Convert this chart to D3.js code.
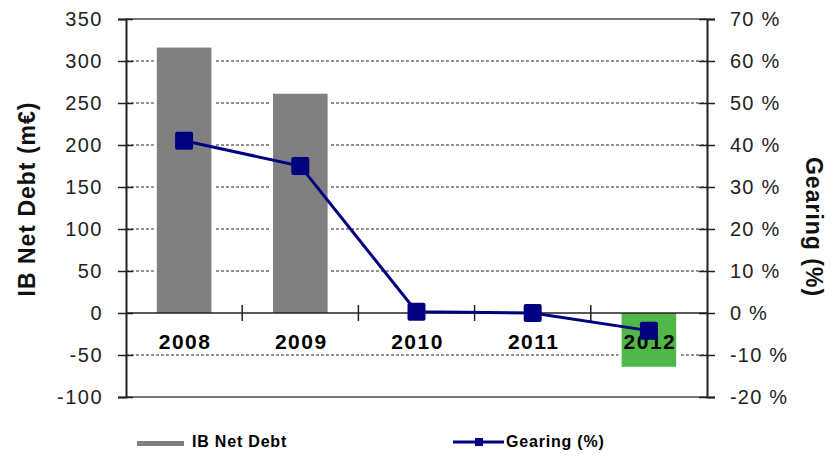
<!DOCTYPE html>
<meta charset="utf-8">
<head>
    <title>IB Net Debt and Gearing</title>
    <style>
        body { margin: 0; background: #fff; }
        text { font-family: "Liberation Sans", Arial, sans-serif; }
    </style>
</head>
<body>

<script src="https://d3js.org/d3.v7.min.js"></script>

<div id="my_dataviz"></div>

<script>

    // data
    var years = ["2008", "2009", "2010", "2011", "2012"];
    var netDebt = [316, 261, 0, 0, -64];          // m€
    var gearing = [41, 35, 0.3, 0, -4.2];         // %
    var leftTicks = [350, 300, 250, 200, 150, 100, 50, 0, -50, -100];
    var gridTicks = [300, 250, 200, 150, 100, 50, -50];
    var rightTicks = [70, 60, 50, 40, 30, 20, 10, 0, -10, -20];

    // plot area (don't call these top/left: window.top is read-only)
    var plotLeft = 126, plotRight = 707, plotTop = 19, plotBottom = 397;

    var svg = d3.select("#my_dataviz")
        .append("svg")
        .attr("width", 836)
        .attr("height", 456);

    var x = d3.scaleBand()
        .domain(years)
        .range([plotLeft, plotRight])
        .paddingInner(0.53)
        .paddingOuter(0.265);

    var yL = d3.scaleLinear().domain([-100, 350]).range([plotBottom, plotTop]);
    var yR = d3.scaleLinear().domain([-20, 70]).range([plotBottom, plotTop]);

    // dashed grid
    var grid = svg.append("g").attr("class", "grid");
    gridTicks.forEach(function(d) {
        grid.append("line")
            .attr("x1", plotLeft)
            .attr("x2", plotRight)
            .attr("y1", yL(d))
            .attr("y2", yL(d))
            .attr("stroke", "#6e6e6e")
            .attr("stroke-width", 1.4)
            .attr("stroke-dasharray", "3 2");
    });

    // plot border top / bottom
    svg.append("line")
        .attr("x1", plotLeft).attr("x2", plotRight)
        .attr("y1", yL(350)).attr("y2", yL(350))
        .attr("stroke", "#777").attr("stroke-width", 2);
    svg.append("line")
        .attr("x1", plotLeft).attr("x2", plotRight)
        .attr("y1", yL(-100)).attr("y2", yL(-100))
        .attr("stroke", "#777").attr("stroke-width", 2);

    // bars, with white gap at the sides
    var bars = svg.append("g");
    bars.selectAll(".bg")
        .data(netDebt)
        .enter()
        .append("rect")
        .attr("x", function(d, i) { return x(years[i]) - 3; })
        .attr("y", function(d) { return yL(Math.max(d, 0)); })
        .attr("width", x.bandwidth() + 6)
        .attr("height", function(d) { return Math.abs(yL(d) - yL(0)); })
        .style("fill", "white");
    bars.selectAll(".bar")
        .data(netDebt)
        .enter()
        .append("rect")
        .attr("x", function(d, i) { return x(years[i]); })
        .attr("y", function(d) { return yL(Math.max(d, 0)); })
        .attr("width", x.bandwidth())
        .attr("height", function(d) { return Math.abs(yL(d) - yL(0)); })
        .style("fill", function(d) { return d < 0 ? "#50b848" : "#808080"; });

    // left axis
    var gL = svg.append("g")
        .attr("transform", "translate(" + plotLeft + ",0)")
        .call(d3.axisLeft(yL).tickValues(leftTicks).tickSize(8).tickPadding(15)
            .tickFormat(function(d) { return String(d); }));
    gL.select(".domain").style("stroke", "#222").style("stroke-width", 2);
    gL.selectAll(".tick line").attr("x1", 7).style("stroke", "#222").style("stroke-width", 1.5);
    gL.selectAll(".tick text")
        .style("font-family", "Liberation Sans, Arial, sans-serif")
        .style("font-size", "20px")
        .style("letter-spacing", "1.5px")
        .style("fill", "#222");

    // right axis
    var gR = svg.append("g")
        .attr("transform", "translate(" + plotRight + ",0)")
        .call(d3.axisRight(yR).tickValues(rightTicks).tickSize(8).tickPadding(15)
            .tickFormat(function(d) { return d + " %"; }));
    gR.select(".domain").style("stroke", "#222").style("stroke-width", 2);
    gR.selectAll(".tick line").attr("x1", -8).style("stroke", "#222").style("stroke-width", 1.5);
    gR.selectAll(".tick text")
        .style("font-family", "Liberation Sans, Arial, sans-serif")
        .style("font-size", "20px")
        .style("letter-spacing", "1.2px")
        .style("fill", "#222");

    // zero line with category boundary ticks
    svg.append("line")
        .attr("x1", plotLeft).attr("x2", plotRight)
        .attr("y1", yL(0)).attr("y2", yL(0))
        .style("stroke", "#222").style("stroke-width", 1.5);
    svg.append("g")
        .selectAll("line")
        .data(years.slice(1))
        .enter()
        .append("line")
        .attr("x1", function(d) { return x(d) - x.step() * x.paddingInner() / 2; })
        .attr("x2", function(d) { return x(d) - x.step() * x.paddingInner() / 2; })
        .attr("y1", yL(0) - 8)
        .attr("y2", yL(0) + 8)
        .style("stroke", "#222")
        .style("stroke-width", 1.5);

    // category labels
    svg.append("g")
        .selectAll("text")
        .data(years)
        .enter()
        .append("text")
        .attr("x", function(d) { return x(d) + x.bandwidth() / 2 + 1; })
        .attr("y", 349)
        .style("text-anchor", "middle")
        .style("font-weight", "bold")
        .style("font-size", "21px")
        .style("letter-spacing", "1.5px")
        .text(function(d) { return d; });

    // gearing line
    var line = d3.line()
        .x(function(d, i) { return x(years[i]) + x.bandwidth() / 2; })
        .y(function(d) { return yR(d); });
    svg.append("path")
        .datum(gearing)
        .attr("d", line)
        .style("fill", "none")
        .style("stroke", "#000080")
        .style("stroke-width", 3);
    svg.append("g")
        .selectAll("rect")
        .data(gearing)
        .enter()
        .append("rect")
        .attr("x", function(d, i) { return x(years[i]) + x.bandwidth() / 2 - 9; })
        .attr("y", function(d) { return yR(d) - 9; })
        .attr("width", 18)
        .attr("height", 18)
        .attr("rx", 2)
        .style("fill", "#000080");

    // axis titles
    svg.append("text")
        .attr("transform", "translate(35,199) rotate(-90)")
        .style("text-anchor", "middle")
        .style("font-weight", "bold")
        .style("font-size", "23px")
        .style("letter-spacing", "1px")
        .style("fill", "#111")
        .text("IB Net Debt (m€)");
    svg.append("text")
        .attr("transform", "translate(806,227) rotate(90)")
        .style("text-anchor", "middle")
        .style("font-weight", "bold")
        .style("font-size", "23px")
        .style("letter-spacing", "1px")
        .style("fill", "#111")
        .text("Gearing (%)");

    // legend
    svg.append("rect")
        .attr("x", 137).attr("y", 441)
        .attr("width", 47).attr("height", 5)
        .style("fill", "#808080");
    svg.append("text")
        .attr("x", 192).attr("y", 447)
        .style("font-weight", "bold")
        .style("font-size", "16px")
        .style("letter-spacing", "0.8px")
        .text("IB Net Debt");
    svg.append("line")
        .attr("x1", 453).attr("x2", 504)
        .attr("y1", 442).attr("y2", 442)
        .style("stroke", "#000080")
        .style("stroke-width", 3);
    svg.append("rect")
        .attr("x", 475).attr("y", 438)
        .attr("width", 8).attr("height", 8)
        .style("fill", "#000080");
    svg.append("text")
        .attr("x", 506).attr("y", 447)
        .style("font-weight", "bold")
        .style("font-size", "16px")
        .style("letter-spacing", "0.8px")
        .text("Gearing (%)");

</script>

</body>
